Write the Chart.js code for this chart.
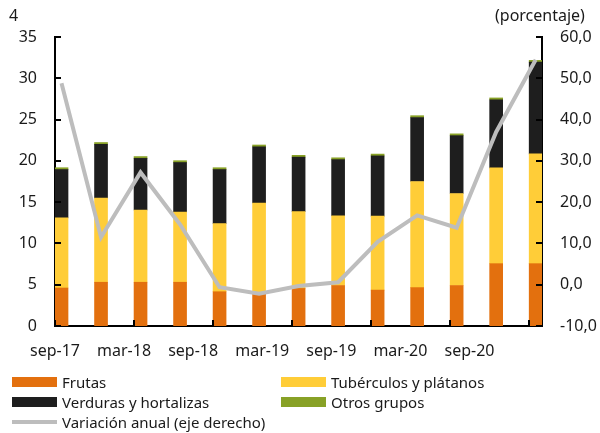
<!DOCTYPE html>
<html>
<head>
<meta charset="utf-8">
<script src="https://cdn.jsdelivr.net/npm/chart.js@4"></script>
<style>
body { margin: 0; background: #fff; font-family: "Noto Sans", sans-serif; color: #1a1a1a; }
#wrap { position: relative; width: 600px; height: 433px; overflow: hidden; }
canvas { position: absolute; left: 0; top: 0; }
.note { position: absolute; font-size: 16px; line-height: 20px; white-space: nowrap; }
.legend-item { position: absolute; font-size: 15px; line-height: 20px; white-space: nowrap; padding-left: 50px; }
.swatch { position: absolute; left: 0; width: 45px; }
</style>
</head>
<body>
<div id="wrap">
  <canvas id="chart" width="600" height="433"></canvas>
  <div class="note" style="left:9px; top:5px;">4</div>
  <div class="note" style="left:495px; top:5px;">(porcentaje)</div>
  <div id="legend"></div>
</div>
<script>
// Quarterly data, sep-17 .. sep-20
const categories = ['sep-17', 'dic-17', 'mar-18', 'jun-18', 'sep-18', 'dic-18', 'mar-19',
                    'jun-19', 'sep-19', 'dic-19', 'mar-20', 'jun-20', 'sep-20'];
const xLabels = ['sep-17', 'mar-18', 'sep-18', 'mar-19', 'sep-19', 'mar-20', 'sep-20'];

const frutas     = [4.6, 5.3, 5.3, 5.3, 4.15, 3.9, 4.55, 4.9, 4.35, 4.65, 4.9, 7.55, 7.55];
const tuberculos = [8.5, 10.2, 8.75, 8.5, 8.25, 11.0, 9.3, 8.45, 8.95, 12.85, 11.15, 11.6, 13.3];
const verduras   = [5.85, 6.5, 6.25, 6.0, 6.55, 6.8, 6.6, 6.8, 7.3, 7.75, 7.0, 8.25, 11.1];
const otros      = [0.22, 0.22, 0.22, 0.22, 0.22, 0.22, 0.22, 0.22, 0.22, 0.22, 0.22, 0.22, 0.22];
const variacion  = [48.8, 11.5, 27.2, 14.6, -0.6, -2.2, -0.3, 0.6, 10.4, 16.8, 13.8, 37.0, 54.5];

const leftTicks = { min: 0, max: 35, step: 5 };
const rightTicks = { min: -10, max: 60, step: 10 };

function points(values) {
    return values.map((v, i) => ({ x: i, y: v }));
}

// small inward tick marks like the original
const tickMarks = {
    id: 'tickMarks',
    afterDraw(chart) {
        const { ctx, chartArea: a, scales } = chart;
        ctx.save();
        ctx.strokeStyle = '#000';
        ctx.lineWidth = 2;
        ctx.beginPath();
        scales.y.ticks.forEach(t => {
            const py = Math.round(scales.y.getPixelForValue(t.value));
            ctx.moveTo(a.left, py);
            ctx.lineTo(a.left + 6, py);
        });
        scales.y1.ticks.forEach(t => {
            const py = Math.round(scales.y1.getPixelForValue(t.value));
            ctx.moveTo(a.right, py);
            ctx.lineTo(a.right - 6, py);
        });
        for (let i = 0; i < categories.length; i += 2) {
            const px = Math.round(scales.x.getPixelForValue(i - 0.165));
            ctx.moveTo(px, a.bottom);
            ctx.lineTo(px, a.bottom - 6);
        }
        ctx.stroke();
        ctx.restore();
    }
};

const series = [
    { label: 'Frutas', data: frutas, color: '#E3700E' },
    { label: 'Tubérculos y plátanos', data: tuberculos, color: '#FFCD38' },
    { label: 'Verduras y hortalizas', data: verduras, color: '#1E1E1E' },
    { label: 'Otros grupos', data: otros, color: '#88A126' }
];

const datasets = series.map(s => ({
    type: 'bar',
    label: s.label,
    data: points(s.data),
    backgroundColor: s.color,
    barThickness: 13,
    xAxisID: 'x',
    yAxisID: 'y',
    order: 1
}));

datasets.push({
    type: 'line',
    label: 'Variación anual (eje derecho)',
    data: points(variacion),
    borderColor: '#BDBDBD',
    borderWidth: 4,
    pointRadius: 0,
    tension: 0,
    xAxisID: 'x',
    yAxisID: 'y1',
    order: 0
});

const tickFont = { family: '"Noto Sans", sans-serif', size: 16 };

new Chart(document.getElementById('chart'), {
    data: { datasets: datasets },
    options: {
        responsive: false,
        animation: false,
        layout: { padding: { top: 37, bottom: 67, left: 0, right: 0 } },
        plugins: { legend: { display: false }, tooltip: { enabled: false } },
        scales: {
            // bar/line axis: kept in the layout but with nothing drawn
            x: {
                type: 'linear',
                position: 'bottom',
                stacked: true,
                offset: false,
                min: -0.165,
                max: 12.16,
                afterFit: s => { s.height = 0; },
                grid: { display: false, drawTicks: false },
                border: { display: false },
                ticks: { display: false }
            },
            // label axis
            xl: {
                type: 'linear',
                position: 'bottom',
                offset: false,
                min: 0,
                max: 14.1,
                afterBuildTicks: s => { s.ticks = xLabels.map((_, i) => ({ value: i * 2 })); },
                afterFit: s => { s.height = 40; },
                grid: { display: false, drawTicks: false },
                border: { display: true, color: '#000', width: 2 },
                ticks: {
                    autoSkip: false,
                    maxRotation: 0,
                    padding: 16,
                    color: '#1a1a1a',
                    font: tickFont,
                    callback: (v, i) => xLabels[i]
                }
            },
            y: {
                position: 'left',
                stacked: true,
                min: leftTicks.min,
                max: leftTicks.max,
                afterFit: s => { s.width = 55; },
                grid: { display: false, drawTicks: false },
                border: { display: true, color: '#000', width: 2 },
                ticks: { stepSize: leftTicks.step, padding: 18, color: '#1a1a1a', font: tickFont }
            },
            y1: {
                position: 'right',
                min: rightTicks.min,
                max: rightTicks.max,
                afterFit: s => { s.width = 58; },
                grid: { display: false, drawTicks: false },
                border: { display: true, color: '#000', width: 2 },
                ticks: {
                    stepSize: rightTicks.step,
                    padding: 18,
                    color: '#1a1a1a',
                    font: tickFont,
                    callback: v => v.toFixed(1).replace('.', ',')
                }
            }
        }
    },
    plugins: [tickMarks]
});

// legend in two columns under the chart
function buildLegend() {
    const spots = [
        { left: 12, top: 372 }, { left: 281, top: 372 },
        { left: 12, top: 392 }, { left: 281, top: 392 },
        { left: 12, top: 412 }
    ];
    const legend = document.getElementById('legend');
    legend.innerHTML = datasets.map((ds, k) => {
        const isLine = ds.type === 'line';
        const color = isLine ? ds.borderColor : ds.backgroundColor;
        const sw = isLine ? 'top:8px;height:4px;' : 'top:5px;height:10px;';
        return `<div class="legend-item" style="left:${spots[k].left}px;top:${spots[k].top}px;">
                  <span class="swatch" style="${sw}background:${color};"></span>${ds.label}</div>`;
    }).join('');
}

buildLegend();
</script>
</body>
</html>
